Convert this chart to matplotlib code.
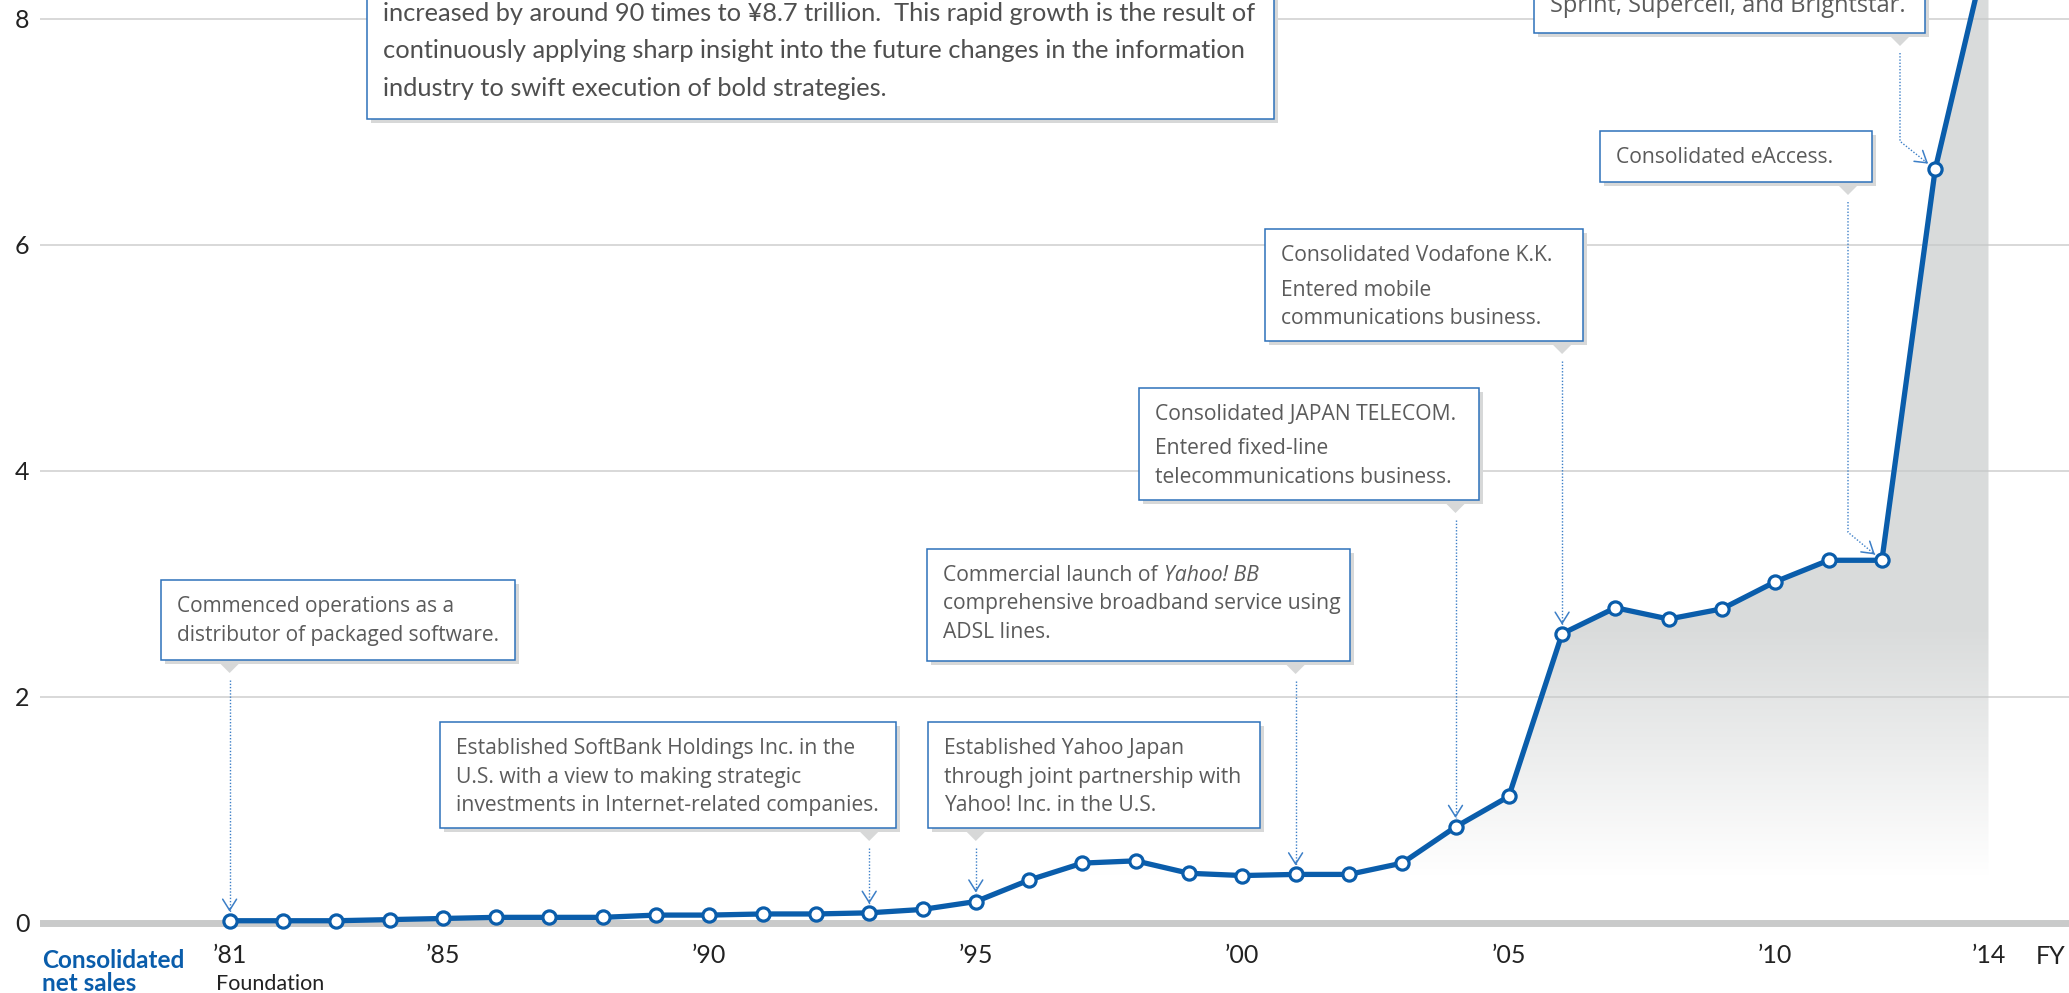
import matplotlib
matplotlib.use("Agg")
import matplotlib.pyplot as plt
import numpy as np
from matplotlib.lines import Line2D
from matplotlib.patches import FancyArrowPatch, PathPatch, Polygon, Rectangle
from matplotlib.transforms import IdentityTransform

# consolidated net sales, trillions of yen, FY1981-FY2014
years = list(range(1981, 2015))
net_sales = [
    0.02, 0.02, 0.02, 0.03, 0.04, 0.05, 0.05, 0.05, 0.07, 0.07,
    0.08, 0.08, 0.09, 0.12, 0.19, 0.38, 0.53, 0.55, 0.44, 0.42,
    0.43, 0.43, 0.53, 0.85, 1.12, 2.56, 2.79, 2.69, 2.78, 3.02,
    3.21, 3.21, 6.67, 8.67,
]

tick_years = [1981, 1985, 1990, 1995, 2000, 2005, 2010, 2014]
tick_labels = ["’81", "’85", "’90", "’95", "’00", "’05", "’10", "’14"]
y_ticks = [0, 2, 4, 6, 8]

intro_lines = [
    "increased by around 90 times to ¥8.7 trillion.  This rapid growth is the result of",
    "continuously applying sharp insight into the future changes in the information",
    "industry to swift execution of bold strategies.",
]

# "" marks a paragraph gap, a tuple is (regular, italic) on one line
event_years = [1981, 1993, 1995, 2001, 2004, 2006, 2012, 2013]
event_notes = [
    ["Commenced operations as a", "distributor of packaged software."],
    ["Established SoftBank Holdings Inc. in the",
     "U.S. with a view to making strategic",
     "investments in Internet-related companies."],
    ["Established Yahoo Japan", "through joint partnership with",
     "Yahoo! Inc. in the U.S."],
    [("Commercial launch of", "Yahoo! BB"),
     "comprehensive broadband service using", "ADSL lines."],
    ["Consolidated JAPAN TELECOM.", "", "Entered fixed-line",
     "telecommunications business."],
    ["Consolidated Vodafone K.K.", "", "Entered mobile",
     "communications business."],
    ["Consolidated eAccess."],
    ["Sprint, Supercell, and Brightstar."],
]

W, H = 2069, 993
BLUE = "#0a5dab"
EDGE = "#2d71bb"
DOTS = "#3c7fc7"
SHADOW = "#d7d8d8"
TEXT = "#5b5b5b"
COND = ["Lato", "DejaVu Sans"]
HUMAN = ["Open Sans", "DejaVu Sans"]
PIX = IdentityTransform()

# callout boxes in pixels from the top-left: left, top, right, bottom
boxes = [
    (161, 580, 515, 660),
    (440, 722, 896, 828),
    (928, 722, 1260, 828),
    (927, 549, 1350, 661),
    (1139, 388, 1479, 500),
    (1265, 229, 1583, 341),
    (1600, 131, 1872, 182),
    (1534, -20, 1925, 33),
]
note_size = [15, 15.2, 15.2, 15.2, 15.2, 15.2, 15.2, 17]
# pointer x for bent leaders, None = straight down onto the point
pointer_x = [None, None, None, None, None, None, 1848, 1900]

fig = plt.figure(figsize=(W / 100, H / 100), dpi=100)
ax = fig.add_axes([40 / W, (H - 940) / H, (W - 40) / W, 940 / H])

# grey gradient under the curve
band = ax.fill_between(years, net_sales, 0, facecolor="none", edgecolor="none")
clip = PathPatch(band.get_paths()[0], transform=ax.transData,
                 facecolor="none", edgecolor="none")
ax.add_patch(clip)
levels = np.linspace(0, 9, 400)
alpha = np.clip((levels - 0.4) / 2.2, 0, 1) * 0.66
img = np.zeros((len(levels), 1, 4))
img[..., :3] = [0.78, 0.79, 0.79]
img[..., 3] = alpha[:, None]
im = ax.imshow(img, extent=(years[0], years[-1], 0, 9), origin="lower",
               aspect="auto", interpolation="bilinear", zorder=1)
im.set_clip_path(clip)

ax.axhline(0, color="#c9caca", lw=5, zorder=2)
ax.plot(years, net_sales, color=BLUE, lw=3.8, marker="o", ms=9.5,
        mfc="white", mec=BLUE, mew=2.3, zorder=3, solid_joinstyle="round")

x81, px_year = 229.6, 53.3
y_zero, px_unit = 923, 113
ax.set_xlim(1981 - (x81 - 40) / px_year, 1981 + (W - x81) / px_year)
ax.set_ylim(-(940 - y_zero) / px_unit, y_zero / px_unit)

ax.set_xticks(tick_years, tick_labels)
ax.set_yticks(y_ticks)
ax.grid(axis="y", color="#d6d6d6", lw=1.3)
ax.set_axisbelow(True)
ax.tick_params(length=0, labelsize=18, labelcolor="#222222")
ax.tick_params(axis="x", pad=3)
ax.tick_params(axis="y", pad=7.5)
for lab in ax.get_xticklabels() + ax.get_yticklabels():
    lab.set_fontfamily(COND)
for side in ax.spines.values():
    side.set_visible(False)

fig.text(2066, H - 964, "FY", transform=PIX, fontsize=18, family=COND,
         color="#222222", ha="right", va="baseline")
fig.text(216, H - 990, "Foundation", transform=PIX, fontsize=15.5, family=COND,
         color="#222222", ha="left", va="baseline")
fig.text(42, H - 968, "Consolidated", transform=PIX, fontsize=17.5, family=COND,
         weight="bold", color=BLUE, ha="left", va="baseline")
fig.text(42, H - 991, "net sales", transform=PIX, fontsize=17.5, family=COND,
         weight="bold", color=BLUE, ha="left", va="baseline")


def framed_box(left, top, right, bottom):
    fig.add_artist(Rectangle((left + 4, H - bottom - 4), right - left, bottom - top,
                             transform=PIX, facecolor=SHADOW, edgecolor="none", zorder=10))
    fig.add_artist(Rectangle((left, H - bottom), right - left, bottom - top,
                             transform=PIX, facecolor="white", edgecolor=EDGE,
                             lw=1.1, zorder=11))


# intro box, cut by the top edge
framed_box(367, -60, 1274, 119)
for i, line in enumerate(intro_lines):
    fig.text(383, H - (21 + i * 37.5), line, transform=PIX, fontsize=18.3,
             family=COND, color="#4f4f4f", ha="left", va="baseline", zorder=12)

renderer = fig.canvas.get_renderer()
for yr, value, note, box, size, px in zip(
        event_years, [net_sales[years.index(y)] for y in event_years],
        event_notes, boxes, note_size, pointer_x):
    left, top, right, bottom = box
    framed_box(left, top, right, bottom)

    y = top + 32
    for line in note:
        if line == "":
            y += 6
            continue
        first = line[0] if isinstance(line, tuple) else line
        t = fig.text(left + 16, H - y, first, transform=PIX, fontsize=size,
                     family=HUMAN, color=TEXT, ha="left", va="baseline", zorder=12)
        if isinstance(line, tuple):
            end = t.get_window_extent(renderer).x1
            fig.text(end + 6, H - y, line[1], transform=PIX, fontsize=size,
                     family=HUMAN, style="italic", color=TEXT, ha="left",
                     va="baseline", zorder=12)
        y += 28.5

    # target point in pixels from the top
    tx, ty = ax.transData.transform((yr, value))
    ty = H - ty
    ptr = tx if px is None else px

    fig.add_artist(Polygon([(ptr - 10, H - bottom - 3), (ptr + 10, H - bottom - 3),
                            (ptr, H - bottom - 13)], closed=True, transform=PIX,
                           facecolor=SHADOW, edgecolor="none", zorder=10))

    start = bottom + 20
    if px is None:
        tip = (tx, ty - 9)
        path = [(ptr, start), tip]
        direction = np.array([0.0, 1.0])
    else:
        bend = (ptr, ty - 28)
        direction = np.array([tx - bend[0], ty - bend[1]])
        direction /= np.hypot(*direction)
        tip = (tx - direction[0] * 9, ty - direction[1] * 9)
        path = [(ptr, start), bend, tip]
    xs = [p[0] for p in path]
    ys = [H - p[1] for p in path]
    fig.add_artist(Line2D(xs, ys, transform=PIX, color=DOTS, lw=1.0,
                          linestyle=(0, (1, 1.3)), zorder=9))
    back = (tip[0] - direction[0] * 3, tip[1] - direction[1] * 3)
    fig.add_artist(FancyArrowPatch((back[0], H - back[1]), (tip[0], H - tip[1]),
                                   arrowstyle="->,head_length=0.8,head_width=0.5",
                                   mutation_scale=10, color=DOTS, lw=1.1,
                                   shrinkA=0, shrinkB=0, transform=PIX, zorder=9))

fig.savefig("out.png", dpi=100)
